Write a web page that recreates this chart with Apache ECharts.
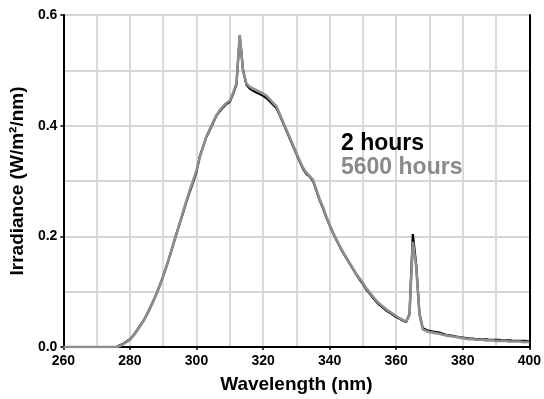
<!DOCTYPE html>
<html><head><meta charset="utf-8">
<script src="https://cdn.jsdelivr.net/npm/echarts@6/dist/echarts.min.js"></script>
<style>html,body{margin:0;padding:0;background:#fff}#c{width:544px;height:399px}</style>
</head><body><div id="c"></div>
<script>
const wavelengths = [];
for (let w = 260; w <= 400; w++) wavelengths.push(w);

const hours2 = [
 0,0,0,0,0,0,0,0,0,0,0,0,0,0,0,0,0,            // 260-276
 0.003,0.006,0.010,0.014,0.021,0.029,0.038,0.047,0.058,0.070, // 277-286
 0.083,0.097,0.112,0.128,0.146,0.165,0.185,0.205,0.224,0.243, // 287-296
 0.263,0.281,0.298,0.316,0.345,0.362,0.380,0.392,0.405,0.418, // 297-306
 0.426,0.433,0.439,0.443,0.457,0.474,0.562,0.500,0.474,0.467, // 307-316
 0.463,0.460,0.457,0.454,0.450,0.444,0.438,0.432,0.419,0.405, // 317-326
 0.391,0.377,0.363,0.349,0.335,0.322,0.313,0.308,0.300,0.283, // 327-336
 0.265,0.251,0.234,0.220,0.206,0.194,0.182,0.171,0.161,0.151, // 337-346
 0.141,0.131,0.122,0.114,0.104,0.097,0.089,0.082,0.076,0.071, // 347-356
 0.066,0.062,0.058,0.054,0.051,0.048,0.045,0.060,0.204,0.150, // 357-366
 0.060,0.034,0.031,0.029,0.028,0.027,0.026,0.024,0.022,0.021, // 367-376
 0.020,0.019,0.018,0.017,0.016,0.015,0.015,0.014,0.014,0.014, // 377-386
 0.014,0.013,0.013,0.013,0.013,0.012,0.012,0.012,0.011,0.011, // 387-396
 0.011,0.011,0.011,0.010                                      // 397-400
];

const hours5600 = [
 0,0,0,0,0,0,0,0,0,0,0,0,0,0,0,0,0,
 0.002,0.005,0.009,0.013,0.020,0.028,0.037,0.046,0.057,0.069,
 0.082,0.096,0.111,0.128,0.146,0.165,0.185,0.205,0.225,0.245,
 0.265,0.284,0.301,0.319,0.343,0.362,0.381,0.394,0.407,0.419,
 0.428,0.435,0.441,0.445,0.459,0.477,0.564,0.498,0.476,0.470,
 0.467,0.464,0.461,0.458,0.454,0.448,0.441,0.435,0.421,0.407,
 0.393,0.379,0.365,0.351,0.337,0.324,0.315,0.309,0.302,0.285,
 0.267,0.253,0.236,0.221,0.207,0.195,0.183,0.172,0.162,0.152,
 0.142,0.132,0.124,0.116,0.106,0.099,0.091,0.084,0.078,0.073,
 0.068,0.064,0.060,0.056,0.052,0.049,0.046,0.058,0.190,0.145,
 0.058,0.032,0.029,0.027,0.026,0.025,0.024,0.022,0.021,0.020,
 0.019,0.018,0.017,0.016,0.015,0.014,0.014,0.013,0.013,0.013,
 0.012,0.012,0.012,0.011,0.011,0.011,0.011,0.010,0.010,0.010,
 0.010,0.009,0.009,0.009
];

const xTitle = 'Wavelength (nm)';
const yTitle = 'Irradiance (W/m\u00B2/nm)';
const legendNames = ['2 hours', '5600 hours'];

const FONT = '"Liberation Sans", Arial, Helvetica, sans-serif';
const gridCol = '#d6d6d6';

const chart = echarts.init(document.getElementById('c'), null, {renderer: 'canvas'});
chart.setOption({
  animation: false,
  backgroundColor: '#fff',
  grid: {left: 62.6, right: 14, top: 15, bottom: 50, containLabel: false},
  xAxis: [{
    type: 'value', min: 260, max: 400, interval: 20,
    axisLine: {show: true, onZero: false, lineStyle: {color: '#000', width: 2}},
    axisTick: {show: true, length: 3, lineStyle: {color: '#000', width: 1.5}},
    axisLabel: {color: '#000', fontFamily: FONT, fontWeight: 'bold', fontSize: 14, margin: 7},
    splitLine: {show: true, lineStyle: {color: gridCol, width: 1.8}},
    minorTick: {show: false, splitNumber: 2},
    minorSplitLine: {show: true, lineStyle: {color: gridCol, width: 1.8}},
    name: xTitle, nameLocation: 'middle', nameGap: 28,
    nameTextStyle: {color: '#000', fontFamily: FONT, fontWeight: 'bold', fontSize: 19}
  }, {
    type: 'value', min: 260, max: 400, position: 'top',
    axisLine: {show: true, lineStyle: {color: '#000', width: 2}},
    axisTick: {show: false}, axisLabel: {show: false}, splitLine: {show: false}
  }],
  yAxis: [{
    type: 'value', min: 0, max: 0.6, interval: 0.2,
    axisLine: {show: true, onZero: false, lineStyle: {color: '#000', width: 2}},
    axisTick: {show: true, length: 3, lineStyle: {color: '#000', width: 1.5}},
    axisLabel: {color: '#000', fontFamily: FONT, fontWeight: 'bold', fontSize: 14, margin: 6,
      formatter: v => v.toFixed(1)},
    splitLine: {show: true, lineStyle: {color: gridCol, width: 1.8}},
    minorTick: {show: false, splitNumber: 2},
    minorSplitLine: {show: true, lineStyle: {color: gridCol, width: 1.8}},
    name: yTitle, nameLocation: 'middle', nameGap: 30,
    nameTextStyle: {color: '#000', fontFamily: FONT, fontWeight: 'bold', fontSize: 19}
  }, {
    type: 'value', min: 0, max: 0.6, position: 'right',
    axisLine: {show: true, lineStyle: {color: '#000', width: 2}},
    axisTick: {show: false}, axisLabel: {show: false}, splitLine: {show: false}
  }],
  series: [{
    name: legendNames[0], type: 'line', showSymbol: false, symbol: 'none',
    data: wavelengths.map((w, i) => [w, hours2[i]]),
    lineStyle: {color: '#000', width: 2.2}, z: 3
  }, {
    name: legendNames[1], type: 'line', showSymbol: false, symbol: 'none',
    data: wavelengths.map((w, i) => [w, hours5600[i]]),
    lineStyle: {color: '#8e8e8e', width: 2.6}, z: 4
  }],
  graphic: [{
    type: 'text', left: 341, top: 132, z: 100,
    style: {text: legendNames[0], fill: '#000', font: 'bold 23px ' + FONT}
  }, {
    type: 'text', left: 341, top: 156, z: 100,
    style: {text: legendNames[1], fill: '#8a8a8a', font: 'bold 23px ' + FONT}
  }]
});
</script></body></html>
